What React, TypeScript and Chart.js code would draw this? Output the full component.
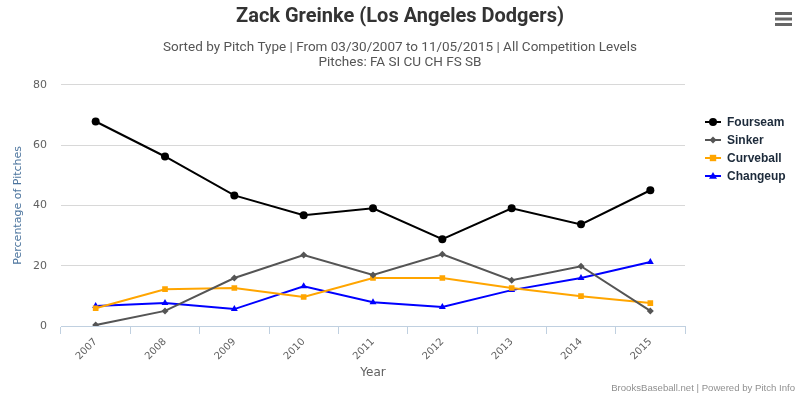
import React, { useEffect, useRef } from "react";
import { Chart, registerables } from "chart.js";

Chart.register(...registerables);

const years = ["2007", "2008", "2009", "2010", "2011", "2012", "2013", "2014", "2015"];
const fourseam = [67.8, 56.2, 43.3, 36.7, 39.0, 28.8, 39.0, 33.7, 45.0];
const sinker = [0.3, 5.0, 15.9, 23.5, 16.9, 23.8, 15.2, 19.8, 5.0];
const curveball = [5.9, 12.2, 12.6, 9.6, 15.9, 15.9, 12.6, 9.9, 7.6];
const changeup = [6.6, 7.6, 5.6, 13.2, 7.9, 6.3, 11.9, 15.9, 21.2];
const yTicks = [0, 20, 40, 60, 80];

const titleText = "Zack Greinke (Los Angeles Dodgers)";
const subtitleLines = [
  "Sorted by Pitch Type | From 03/30/2007 to 11/05/2015 | All Competition Levels",
  "Pitches: FA SI CU CH FS SB",
];
const creditText = "BrooksBaseball.net | Powered by Pitch Info";

const extrasPlugin = {
  id: "extras",
  afterDraw(chart: any) {
    const ctx = chart.ctx;
    ctx.save();
    // hamburger
    ctx.fillStyle = "#666666";
    for (let i = 0; i < 3; i++) {
      ctx.fillRect(775, 12 + i * 5.5, 17, 3);
    }
    // credits
    ctx.font = "9.6px 'Liberation Sans', Arial, sans-serif";
    ctx.fillStyle = "#909090";
    ctx.textAlign = "right";
    ctx.textBaseline = "middle";
    ctx.fillText(creditText, 795, 388);
    // legend
    const items = chart.data.datasets;
    const x0 = 705;
    let y = 122;
    items.forEach((ds: any) => {
      ctx.strokeStyle = ds.borderColor;
      ctx.lineWidth = 2;
      ctx.beginPath();
      ctx.moveTo(x0, y);
      ctx.lineTo(x0 + 16, y);
      ctx.stroke();
      ctx.fillStyle = ds.pointBackgroundColor;
      const r = ds.pointRadius;
      const cx = x0 + 8;
      ctx.beginPath();
      if (ds.pointStyle === "circle") {
        ctx.arc(cx, y, r, 0, Math.PI * 2);
      } else if (ds.pointStyle === "rectRot") {
        ctx.moveTo(cx, y - r);
        ctx.lineTo(cx + r, y);
        ctx.lineTo(cx, y + r);
        ctx.lineTo(cx - r, y);
        ctx.closePath();
      } else if (ds.pointStyle === "rect") {
        ctx.rect(cx - r * 0.8, y - r * 0.8, r * 1.6, r * 1.6);
      } else {
        ctx.moveTo(cx, y - r);
        ctx.lineTo(cx + r, y + r * 0.7);
        ctx.lineTo(cx - r, y + r * 0.7);
        ctx.closePath();
      }
      ctx.fill();
      ctx.font = "bold 12px 'Liberation Sans', Arial, sans-serif";
      ctx.fillStyle = "#1c2a3a";
      ctx.textAlign = "left";
      ctx.textBaseline = "middle";
      ctx.fillText(ds.label, x0 + 22, y + 1);
      y += 18;
    });
    ctx.restore();
  },
};

function mk(label: string, data: number[], color: string, style: string, r: number) {
  return {
    label,
    data,
    borderColor: color,
    backgroundColor: color,
    pointBackgroundColor: color,
    pointBorderColor: color,
    pointStyle: style,
    pointRadius: r,
    pointBorderWidth: 0,
    borderWidth: 2,
    tension: 0,
  };
}

export default function App() {
  const ref = useRef<HTMLCanvasElement>(null);
  useEffect(() => {
    if (!ref.current) return;
    const chart = new Chart(ref.current, {
      type: "line",
      data: {
        labels: years,
        datasets: [
          mk("Fourseam", fourseam, "#000000", "circle", 4),
          mk("Sinker", sinker, "#555555", "rectRot", 3.5),
          mk("Curveball", curveball, "#FFA500", "rect", 4),
          mk("Changeup", changeup, "#0000FF", "triangle", 4),
        ] as any,
      },
      options: {
        animation: false,
        responsive: false,
        maintainAspectRatio: false,
        layout: { padding: { left: 0, right: 0, top: 0, bottom: 10 } },
        plugins: {
          legend: { display: false },
          tooltip: { enabled: false },
          title: {
            display: true,
            text: titleText,
            color: "#333333",
            font: { family: "'Liberation Sans Narrow', 'Roboto', sans-serif", size: 20, weight: "bold", lineHeight: 1.1 },
            padding: { top: 6, bottom: 12 },
          },
          subtitle: {
            display: true,
            text: subtitleLines,
            color: "#555555",
            font: { family: "'Liberation Sans Narrow', 'Roboto', sans-serif", size: 13.5, lineHeight: 1.1 },
            padding: { top: 0, bottom: 15 },
          },
        },
        scales: {
          x: {
            type: "category",
            offset: true,
            afterFit: (s: any) => { s.height = 60; },
            grid: {
              offset: true,
              drawOnChartArea: false,
              drawTicks: true,
              tickLength: 8,
              color: "#C0D0E0",
            },
            border: { color: "#C0D0E0", width: 1 },
            ticks: {
              minRotation: 45,
              maxRotation: 45,
              color: "#606060",
              font: { family: "'DejaVu Sans', sans-serif", size: 10 },
              padding: 2,
            },
            title: {
              display: true,
              text: "Year",
              color: "#606060",
              font: { family: "'DejaVu Sans', sans-serif", size: 12 },
              padding: { top: 0, bottom: 6 },
            },
          },
          y: {
            min: 0,
            max: 80,
            afterFit: (s: any) => { s.width = 61; },
            afterBuildTicks: (s: any) => { s.ticks = yTicks.map((v) => ({ value: v })); },
            grid: { color: "#D8D8D8", drawTicks: false, lineWidth: 1 },
            border: { display: false },
            ticks: {
              color: "#606060",
              font: { family: "'DejaVu Sans', sans-serif", size: 11 },
              padding: 14,
            },
            title: {
              display: true,
              text: "Percentage of Pitches",
              color: "#4d759e",
              font: { family: "'DejaVu Sans', sans-serif", size: 11 },
              padding: { top: 12, bottom: 0 },
            },
          },
          yRight: {
            position: "right",
            min: 0,
            max: 80,
            afterFit: (s: any) => { s.width = 115; },
            grid: { display: false },
            border: { display: false },
            ticks: { display: false },
          },
        },
      },
      plugins: [extrasPlugin],
    });
    return () => chart.destroy();
  }, []);
  return (
    <div style={{ position: "fixed", left: 0, top: 0, width: 800, height: 396, background: "#fff" }}>
      <canvas ref={ref} width={800} height={396} style={{ width: 800, height: 396 }} />
    </div>
  );
}
